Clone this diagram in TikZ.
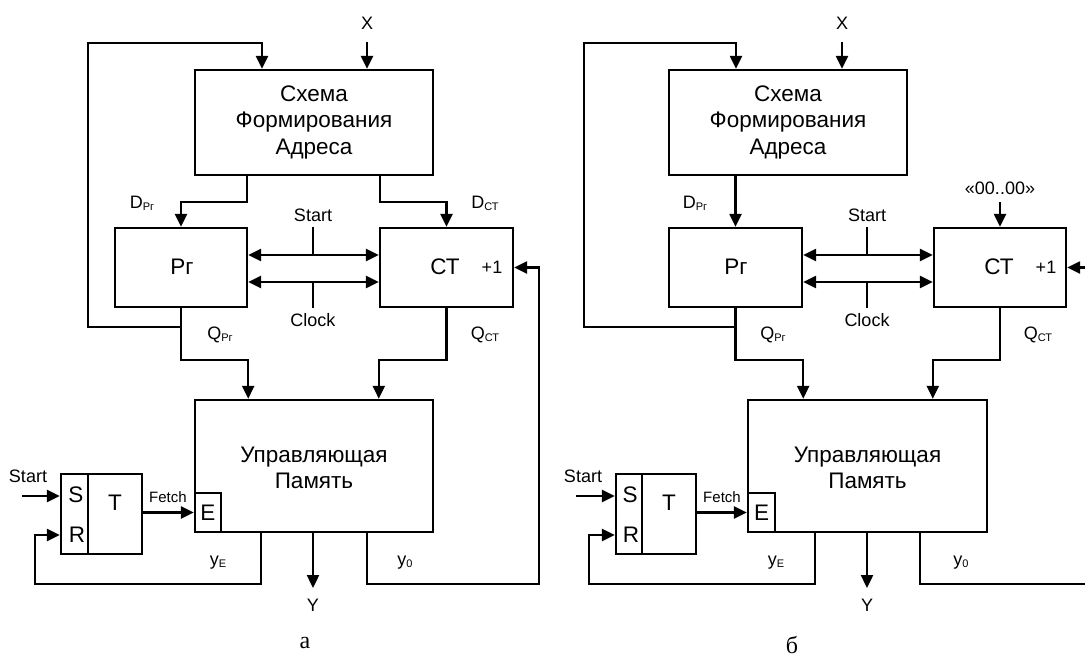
\documentclass[tikz,border=0pt]{standalone}
\usepackage{fontspec}
\setmainfont{Liberation Sans}
\newfontfamily\capfont{Liberation Serif}
\usetikzlibrary{arrows.meta}
\tikzset{
  blk/.style={draw, rectangle, inner sep=0pt, line width=2.4pt},
  conn/.style={line width=2.4pt},
  arr/.style={conn, -{Triangle[length=13pt,width=12pt]}},
  darr/.style={conn, {Triangle[length=13pt,width=12pt]}-{Triangle[length=13pt,width=12pt]}},
  big/.style={font=\fontsize{22.5}{26.5}\selectfont, align=center, inner sep=0pt},
  lbl/.style={font=\fontsize{18}{20}\selectfont, inner sep=0pt},
  sml/.style={font=\fontsize{15}{17}\selectfont, inner sep=0pt},
  captxt/.style={font=\capfont\fontsize{24}{26}\selectfont, inner sep=0pt}
}
\newcommand{\subl}[1]{\raisebox{-2pt}{\fontsize{11}{11}\selectfont #1}}
\begin{document}
\begin{tikzpicture}[x=1pt,y=-1pt]
\clip (0,0) rectangle (1085,661);
\fill[white] (0,0) rectangle (1085,661);

% ================= (a) =================
\node[blk, minimum width=238pt, minimum height=105pt] (a-sfa) at (314,122.5) {};
\node[big] (a-sfat) at (314,122) {Схема\\Формирования\\Адреса};
\node[blk, minimum width=132pt, minimum height=79pt] (a-pr) at (181,267.5) {};
\node[big] (a-prt) at (182,267) {Рг};
\node[blk, minimum width=133pt, minimum height=79pt] (a-ct) at (446.5,267.5) {};
\node[big] (a-ctt) at (445,267) {СТ};
\node[lbl] (a-inc) at (492,267) {+1};
\node[blk, minimum width=238pt, minimum height=132pt] (a-up) at (314,466) {};
\node[big] (a-upt) at (314,468) {Управляющая\\Память};
\node[blk, minimum width=26pt, minimum height=39pt, big] (a-e) at (208,512.5) {E};
\node[blk, minimum width=27pt, minimum height=80pt] (a-sr) at (74.5,514) {};
\node[blk, minimum width=54pt, minimum height=80pt] (a-t) at (115,514) {};
\node[big] (a-s) at (76,495) {S};
\node[big] (a-r) at (77,535) {R};
\node[big] (a-tt) at (115,503) {T};

\node[lbl] (a-x) at (367,23) {X};
\node[lbl] (a-dpr) at (142,203) {D\subl{Рг}};
\node[lbl] (a-dct) at (485,203) {D\subl{СТ}};
\node[lbl] (a-start) at (313,215) {Start};
\node[lbl] (a-clock) at (313,320) {Clock};
\node[lbl] (a-qpr) at (220,335) {Q\subl{Рг}};
\node[lbl] (a-qct) at (485,335) {Q\subl{СТ}};
\node[lbl] (a-start2) at (28,476) {Start};
\node[sml] (a-fetch) at (168,497) {Fetch};
\node[lbl] (a-ye) at (218,563) {y\subl{E}};
\node[lbl] (a-y0) at (405,563) {y\subl{0}};
\node[lbl] (a-y) at (313,605) {Y};
\node[captxt] (a-cap) at (305,643) {а};

\coordinate (a-xin) at (367,42);
\coordinate (a-fbtop) at (262,43);
\coordinate (a-fbl) at (88,327);
\coordinate (a-br) at (181,327);
\coordinate (a-dl) at (247,202);
\coordinate (a-dr) at (380,202);
\coordinate (a-ql) at (181,360);
\coordinate (a-qr) at (446.5,360);
\coordinate (a-stv) at (313,255);
\coordinate (a-clv) at (313,282);
\coordinate (a-yEx) at (261,584);
\coordinate (a-rl) at (35,584);
\coordinate (a-y0x) at (367,584);
\coordinate (a-rr) at (539,584);
\coordinate (a-sin) at (22,496);
\coordinate (a-yout) at (313,588);

\draw[arr] (a-xin) -- (a-sfa.north -| a-xin);
\draw[arr] (a-br) -- (a-fbl) |- (a-fbtop) -- (a-sfa.north -| a-fbtop);
\draw[arr] (a-sfa.south -| a-dl) -- (a-dl) -| (a-pr.north);
\draw[arr] (a-sfa.south -| a-dr) -- (a-dr) -| (a-ct.north);
\draw[darr] (a-pr.east |- a-stv) -- (a-ct.west |- a-stv);
\draw[darr] (a-pr.east |- a-clv) -- (a-ct.west |- a-clv);
\draw[conn] (a-pr.north -| a-stv) -- (a-stv);
\draw[conn] (a-pr.south -| a-clv) -- (a-clv);
\draw[arr] (a-pr.south) -- (a-ql) -| (a-up.north -| a-pr.east);
\draw[arr] (a-ct.south) -- (a-qr) -| (a-up.north -| a-ct.west);
\draw[arr] (a-up.south -| a-y0x) -- (a-y0x) -- (a-rr) |- (a-ct.east);
\draw[arr] (a-up.south -| a-yout) -- (a-yout);
\draw[arr] (a-up.south -| a-yEx) -- (a-yEx) -- (a-rl) |- (a-sr.west |- a-r);
\draw[arr] (a-sin) -- (a-sr.west |- a-sin);
\draw[arr] (a-t.east |- a-e.west) -- (a-e.west);

% ================= (b) =================
\node[blk, minimum width=238pt, minimum height=105pt] (b-sfa) at (788,122.5) {};
\node[big] (b-sfat) at (788,122) {Схема\\Формирования\\Адреса};
\node[blk, minimum width=133pt, minimum height=79pt] (b-pr) at (735.5,267.5) {};
\node[big] (b-prt) at (736,267) {Рг};
\node[blk, minimum width=132pt, minimum height=79pt] (b-ct) at (1000,267.5) {};
\node[big] (b-ctt) at (999,267) {СТ};
\node[lbl] (b-inc) at (1046,267) {+1};
\node[blk, minimum width=239pt, minimum height=132pt] (b-up) at (867.5,466) {};
\node[big] (b-upt) at (867.5,468) {Управляющая\\Память};
\node[blk, minimum width=27pt, minimum height=39pt, big] (b-e) at (761.5,512.5) {E};
\node[blk, minimum width=26pt, minimum height=80pt] (b-sr) at (629,514) {};
\node[blk, minimum width=54pt, minimum height=80pt] (b-t) at (669,514) {};
\node[big] (b-s) at (630,495) {S};
\node[big] (b-r) at (631,535) {R};
\node[big] (b-tt) at (669,503) {T};

\node[lbl] (b-x) at (842,23) {X};
\node[lbl] (b-dpr) at (695,203) {D\subl{Рг}};
\node[lbl] (b-zero) at (1000,188) {«00..00»};
\node[lbl] (b-start) at (867,215) {Start};
\node[lbl] (b-clock) at (867,320) {Clock};
\node[lbl] (b-qpr) at (773,335) {Q\subl{Рг}};
\node[lbl] (b-qct) at (1038,335) {Q\subl{СТ}};
\node[lbl] (b-start2) at (583,476) {Start};
\node[sml] (b-fetch) at (722,497) {Fetch};
\node[lbl] (b-ye) at (776,563) {y\subl{E}};
\node[lbl] (b-y0) at (961,563) {y\subl{0}};
\node[lbl] (b-y) at (867,605) {Y};
\node[captxt] (b-cap) at (792,645) {б};

\coordinate (b-xin) at (842,42);
\coordinate (b-fbtop) at (736,43);
\coordinate (b-fbl) at (584,327);
\coordinate (b-br) at (735.5,327);
\coordinate (b-zin) at (1000,202);
\coordinate (b-ql) at (735.5,360);
\coordinate (b-qr) at (1000,360);
\coordinate (b-stv) at (867,255);
\coordinate (b-clv) at (867,282);
\coordinate (b-yEx) at (815,584);
\coordinate (b-rl) at (589,584);
\coordinate (b-y0x) at (920,584);
\coordinate (b-rr) at (1094,584);
\coordinate (b-sin) at (576,496);
\coordinate (b-yout) at (867,588);

\draw[arr] (b-xin) -- (b-sfa.north -| b-xin);
\draw[arr] (b-br) -- (b-fbl) |- (b-fbtop) -- (b-sfa.north -| b-fbtop);
\draw[arr] (b-sfa.south -| b-pr.north) -- (b-pr.north);
\draw[arr] (b-zin) -- (b-ct.north);
\draw[darr] (b-pr.east |- b-stv) -- (b-ct.west |- b-stv);
\draw[darr] (b-pr.east |- b-clv) -- (b-ct.west |- b-clv);
\draw[conn] (b-pr.north -| b-stv) -- (b-stv);
\draw[conn] (b-pr.south -| b-clv) -- (b-clv);
\draw[arr] (b-pr.south) -- (b-ql) -| (b-up.north -| b-pr.east);
\draw[arr] (b-ct.south) -- (b-qr) -| (b-up.north -| b-ct.west);
\draw[arr] (b-up.south -| b-y0x) -- (b-y0x) -- (b-rr) |- (b-ct.east);
\draw[arr] (b-up.south -| b-yout) -- (b-yout);
\draw[arr] (b-up.south -| b-yEx) -- (b-yEx) -- (b-rl) |- (b-sr.west |- b-r);
\draw[arr] (b-sin) -- (b-sr.west |- b-sin);
\draw[arr] (b-t.east |- b-e.west) -- (b-e.west);
\end{tikzpicture}
\end{document}
